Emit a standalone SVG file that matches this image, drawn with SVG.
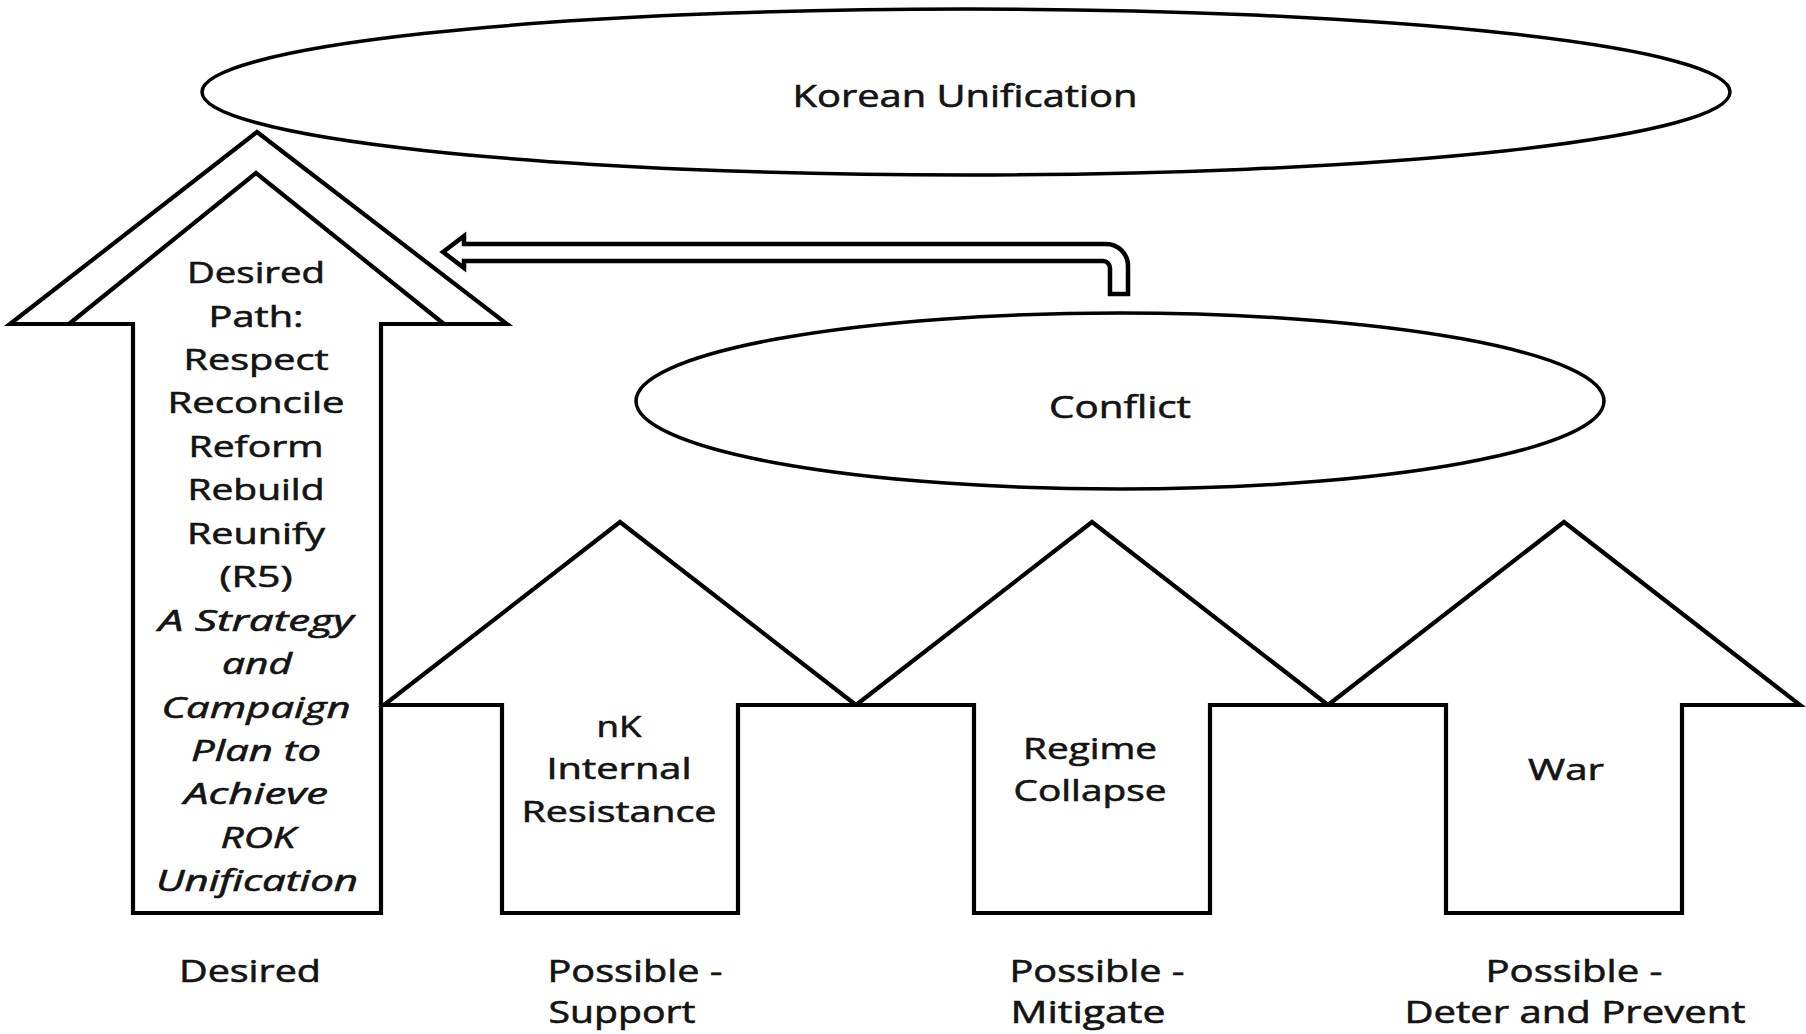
<svg xmlns="http://www.w3.org/2000/svg" width="1806" height="1034" viewBox="0 0 1806 1034">
<style>
.shape{fill:#fff;stroke:#000;stroke-width:4.2;stroke-linejoin:miter}
.line{fill:none;stroke:#000;stroke-width:4.2;stroke-linejoin:miter}
.ell{fill:#fff;stroke:#000;stroke-width:3.5}
.conn{fill:#fff;stroke:#000;stroke-width:4.5;stroke-linejoin:miter}
text{font-family:"Open Sans","Liberation Sans",sans-serif;fill:#141414;stroke:#141414;stroke-width:0.6;text-anchor:middle}
.t{font-size:29px}
.b{font-size:31px}
.i{font-style:italic}
</style>
<rect width="1806" height="1034" fill="#fff"/>

<g id="korean-unification">
<ellipse class="ell" cx="966" cy="92" rx="764" ry="83"/>
<text class="b" x="965" y="107" textLength="345" lengthAdjust="spacingAndGlyphs">Korean Unification</text>
</g>

<g id="desired-path">
<polygon class="shape" points="257,132 507,324 381,324 381,913 133,913 133,324 10,324"/>
<polyline class="line" points="69,324 256,173 444,324"/>
<text class="t" x="256" y="283" textLength="138" lengthAdjust="spacingAndGlyphs">Desired</text>
<text class="t" x="256" y="326.5" textLength="95" lengthAdjust="spacingAndGlyphs">Path:</text>
<text class="t" x="256" y="370" textLength="145" lengthAdjust="spacingAndGlyphs">Respect</text>
<text class="t" x="256" y="413.4" textLength="177" lengthAdjust="spacingAndGlyphs">Reconcile</text>
<text class="t" x="256" y="456.8" textLength="135" lengthAdjust="spacingAndGlyphs">Reform</text>
<text class="t" x="256" y="500.3" textLength="137" lengthAdjust="spacingAndGlyphs">Rebuild</text>
<text class="t" x="256" y="543.7" textLength="138" lengthAdjust="spacingAndGlyphs">Reunify</text>
<text class="t" x="256" y="587.2" textLength="73" lengthAdjust="spacingAndGlyphs">(R5)</text>
<text class="t i" x="256" y="630.6" textLength="195" lengthAdjust="spacingAndGlyphs">A Strategy</text>
<text class="t i" x="257" y="674" textLength="70" lengthAdjust="spacingAndGlyphs">and</text>
<text class="t i" x="256" y="717.5" textLength="189" lengthAdjust="spacingAndGlyphs">Campaign</text>
<text class="t i" x="256" y="761" textLength="130" lengthAdjust="spacingAndGlyphs">Plan to</text>
<text class="t i" x="256" y="804.4" textLength="144" lengthAdjust="spacingAndGlyphs">Achieve</text>
<text class="t i" x="258" y="847.9" textLength="75" lengthAdjust="spacingAndGlyphs">ROK</text>
<text class="t i" x="257" y="891.3" textLength="202" lengthAdjust="spacingAndGlyphs">Unification</text>
</g>

<g id="conflict">
<ellipse class="ell" cx="1120" cy="401" rx="484" ry="88"/>
<text class="b" x="1120" y="418" textLength="142" lengthAdjust="spacingAndGlyphs">Conflict</text>
</g>

<g id="nk-internal-resistance">
<polygon class="shape" points="620,522 856,705 738,705 738,913 502,913 502,705 384,705"/>
<text class="t" x="619" y="737" textLength="45" lengthAdjust="spacingAndGlyphs">nK</text>
<text class="t" x="619" y="779" textLength="145" lengthAdjust="spacingAndGlyphs">Internal</text>
<text class="t" x="619" y="822" textLength="195" lengthAdjust="spacingAndGlyphs">Resistance</text>
</g>

<g id="regime-collapse">
<polygon class="shape" points="1092,522 1328,705 1210,705 1210,913 974,913 974,705 856,705"/>
<text class="t" x="1090" y="759" textLength="134" lengthAdjust="spacingAndGlyphs">Regime</text>
<text class="t" x="1090" y="801" textLength="153" lengthAdjust="spacingAndGlyphs">Collapse</text>
</g>

<g id="war">
<polygon class="shape" points="1564,522 1800,705 1682,705 1682,913 1446,913 1446,705 1328,705"/>
<text class="t" x="1566" y="780" textLength="76" lengthAdjust="spacingAndGlyphs">War</text>
</g>

<g id="connectors">
<path class="conn" d="M443,252 L464,236 L464,244 L1106,244 A22,22 0 0 1 1128,266 L1128,294 L1110,294 L1110,268 A7,7 0 0 0 1103,261 L464,261 L464,268 Z"/>
</g>

<g id="labels">
<text class="b" x="250" y="982" textLength="142" lengthAdjust="spacingAndGlyphs">Desired</text>
<text class="b" x="635" y="982" textLength="175" lengthAdjust="spacingAndGlyphs">Possible -</text>
<text class="b" x="622" y="1023" textLength="147" lengthAdjust="spacingAndGlyphs">Support</text>
<text class="b" x="1097" y="982" textLength="175" lengthAdjust="spacingAndGlyphs">Possible -</text>
<text class="b" x="1088" y="1023" textLength="155" lengthAdjust="spacingAndGlyphs">Mitigate</text>
<text class="b" x="1574" y="982" textLength="177" lengthAdjust="spacingAndGlyphs">Possible -</text>
<text class="b" x="1575" y="1023" textLength="341" lengthAdjust="spacingAndGlyphs">Deter and Prevent</text>
</g>
</svg>
